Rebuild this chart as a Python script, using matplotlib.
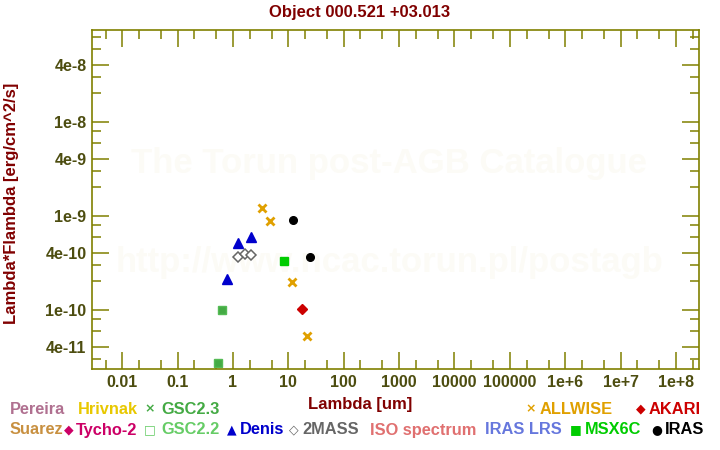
import matplotlib
matplotlib.use('Agg')
import matplotlib.pyplot as plt
from matplotlib.ticker import FixedLocator, FixedFormatter, LogLocator, NullFormatter

plt.rcParams['font.family'] = ['Liberation Sans', 'DejaVu Sans']
plt.rcParams['font.weight'] = 'bold'

# photometry, wavelength [um] and lambda*F_lambda [erg/cm^2/s]
allwise_wl = [3.35, 4.6, 11.6, 22.1]
allwise_f = [1.2e-9, 8.7e-10, 1.96e-10, 5.2e-11]
iras_wl = [12, 25]
iras_f = [8.9e-10, 3.6e-10]
msx_wl = [8.28]
msx_f = [3.27e-10]
akari_wl = [18]
akari_f = [1.03e-10]
denis_wl = [0.79, 1.22, 2.15]
denis_f = [2.1e-10, 5.1e-10, 5.9e-10]
tmass_wl = [1.24, 1.65, 2.16]
tmass_f = [3.6e-10, 3.9e-10, 3.8e-10]
gsc23_wl = [0.54, 0.64]
gsc23_f = [2.7e-11, 1.0e-10]

xticks = [0.01, 0.1, 1, 10, 100, 1000, 1e4, 1e5, 1e6, 1e7, 1e8]
xlabels = ['0.01', '0.1', '1', '10', '100', '1000', '10000', '100000', '1e+6', '1e+7', '1e+8']
yticks = [4e-11, 1e-10, 4e-10, 1e-9, 4e-9, 1e-8, 4e-8]
ylabels = ['4e-11', '1e-10', '4e-10', '1e-9', '4e-9', '1e-8', '4e-8']

# legend: (label, colour, symbol, x of symbol, x of text, row)
leg_labels = ['Pereira', 'Hrivnak', 'GSC2.3', 'ALLWISE', 'AKARI',
              'Suarez', 'Tycho-2', 'GSC2.2', 'Denis', '2MASS', 'ISO spectrum', 'IRAS LRS', 'MSX6C', 'IRAS']
leg_colors = ['#b07090', '#e8c800', '#44aa44', '#e0a000', '#cc0000',
              '#c89040', '#cc0066', '#66cc66', '#0000cc', '#666666', '#e07070', '#6677dd', '#00cc00', '#000000']
leg_symbols = ['', '', '\u00d7', '\u00d7', '\u25c6',
               '', '\u25c6', '\u25a1', '\u25b2', '\u25c7', '', '', '\u25a0', '\u25cf']
leg_sym_x = [0, 0, 150, 531, 641, 0, 69, 150, 232, 294, 0, 0, 576, 657]
leg_txt_x = [10, 78, 161, 540, 649, 10, 76, 161, 240, 302, 370, 485, 585, 665]
leg_row = [0, 0, 0, 0, 0, 1, 1, 1, 1, 1, 1, 1, 1, 1]

W, H = 720, 450
fig = plt.figure(figsize=(7.2, 4.5), dpi=100)
ax = fig.add_axes([92 / W, 1 - 369 / H, (699 - 92) / W, (369 - 30) / H])

olive = '#808000'
ticklab = '#4d4d10'
dred = '#800000'

# watermark
ax.text(0.49, 0.605, 'The Torun post-AGB Catalogue', transform=ax.transAxes,
        ha='center', va='center', fontsize=25, color='#fcfbf6', zorder=0)
ax.text(0.49, 0.315, 'http://www.ncac.torun.pl/postagb', transform=ax.transAxes,
        ha='center', va='center', fontsize=25, color='#fcfbf6', zorder=0)

ax.plot(gsc23_wl, gsc23_f, 's', color='#44aa44', ms=5.5, mec='#55bb55', ls='none')
ax.plot(tmass_wl, tmass_f, 'D', mfc='white', mec='#666666', mew=1.1, ms=5, ls='none')
ax.plot(denis_wl, denis_f, '^', color='#0000cc', ms=6.5, ls='none')
ax.plot(msx_wl, msx_f, 's', color='#00cc00', ms=5.5, ls='none')
ax.plot(akari_wl, akari_f, 'D', color='#cc0000', ms=5, ls='none')
ax.plot(allwise_wl, allwise_f, 'x', color='#e0a000', ms=5.5, mew=2, ls='none')
ax.plot(iras_wl, iras_f, 'o', color='black', ms=5.5, ls='none')

ax.set_xscale('log')
ax.set_yscale('log')
ax.set_xlim(0.00285, 2.6e8)
ax.set_ylim(2.34e-11, 9.46e-8)

ax.xaxis.set_major_locator(FixedLocator(xticks))
ax.xaxis.set_major_formatter(FixedFormatter(xlabels))
ax.xaxis.set_minor_locator(LogLocator(base=10, subs=(2, 5), numticks=30))
ax.xaxis.set_minor_formatter(NullFormatter())
ax.yaxis.set_major_locator(FixedLocator(yticks))
ax.yaxis.set_major_formatter(FixedFormatter(ylabels))
ax.yaxis.set_minor_locator(LogLocator(base=10, subs=(2, 3, 6, 8), numticks=30))
ax.yaxis.set_minor_formatter(NullFormatter())

for s in ax.spines.values():
    s.set_color(olive)
    s.set_linewidth(1.2)
ax.tick_params(which='both', direction='in', top=True, right=True, color=olive, width=1.1)
ax.tick_params(which='major', length=12.5, labelsize=11.5, labelcolor=ticklab, pad=4)
ax.tick_params(which='minor', length=6.5)
for lab in ax.get_xticklabels() + ax.get_yticklabels():
    lab.set_fontweight('bold')

fig.text(0.5, 1 - 12 / H, 'Object 000.521 +03.013', ha='center', va='center',
         fontsize=12, color=dred)
fig.text(0.5, 1 - 404 / H, 'Lambda [um]', ha='center', va='center', fontsize=12, color=dred)
fig.text(12 / W, 1 - 203 / H, 'Lambda*Flambda [erg/cm^2/s]', ha='center', va='center',
         rotation=90, fontsize=12, color=dred)

rows_y = [409, 430]
for lab, col, sym, sx, tx, r in zip(leg_labels, leg_colors, leg_symbols, leg_sym_x, leg_txt_x, leg_row):
    y = 1 - rows_y[r] / H
    if sym:
        fig.text(sx / W, y, sym, ha='center', va='center', fontsize=9,
                 color=col, family='DejaVu Sans')
    fig.text(tx / W, y, lab, ha='left', va='center', fontsize=11.8, color=col)

fig.savefig('out.png', dpi=100)
